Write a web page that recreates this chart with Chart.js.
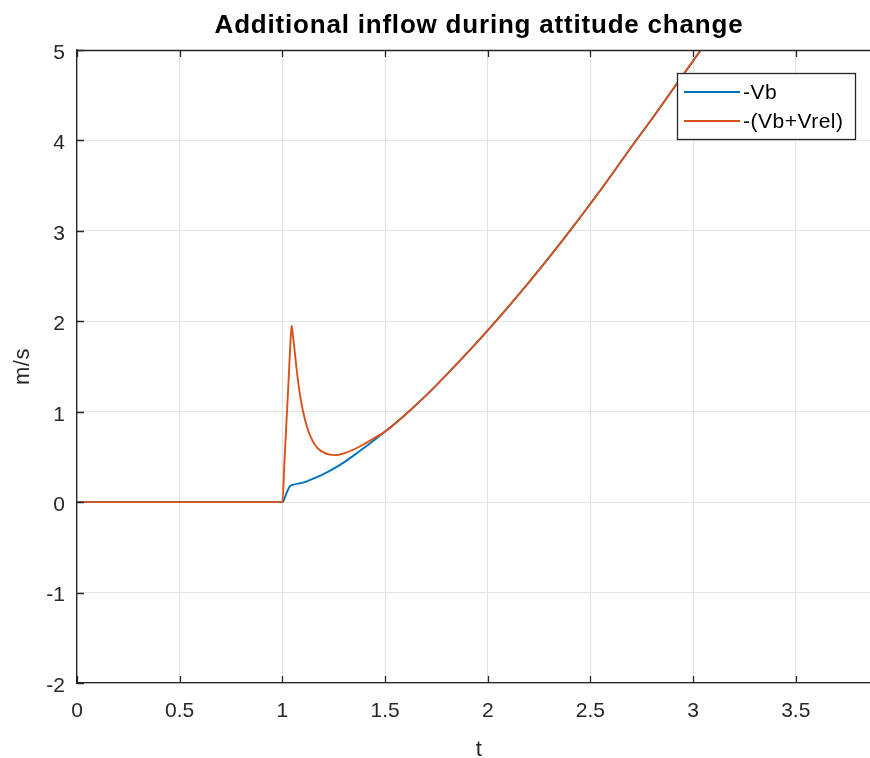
<!DOCTYPE html>
<html>
<head>
<meta charset="utf-8">
<script src="https://cdn.jsdelivr.net/npm/chart.js@4.4.1/dist/chart.umd.min.js"></script>
<style>
  html, body { margin: 0; padding: 0; background: #ffffff; overflow: hidden; }
  canvas { display: block; }
</style>
</head>
<body>
<canvas id="inflow-chart" width="881" height="758"></canvas>
<script>
// Data
const titleText = 'Additional inflow during attitude change';
const xLabel = 't';
const yLabel = 'm/s';
const xTicks = [0, 0.5, 1, 1.5, 2, 2.5, 3, 3.5];
const yTicks = [-2, -1, 0, 1, 2, 3, 4, 5];

// -Vb, up to the point where both curves merge
const tVb = [0, 1.0, 1.02, 1.035, 1.05, 1.1, 1.15, 1.2, 1.25, 1.3, 1.35, 1.4, 1.45, 1.5];
const vb  = [0, 0, 0.10, 0.17, 0.19, 0.215, 0.26, 0.31, 0.37, 0.44, 0.52, 0.605, 0.69, 0.78];

// -(Vb+Vrel), up to the merge point
const tRel = [0, 1.0, 1.01, 1.02, 1.03, 1.04, 1.045, 1.05, 1.06, 1.07, 1.08, 1.09, 1.10, 1.12, 1.14,
              1.16, 1.18, 1.20, 1.23, 1.26, 1.30, 1.35, 1.40, 1.45, 1.5];
const vRel = [0, 0, 0.44, 0.89, 1.33, 1.80, 1.95, 1.87, 1.67, 1.46, 1.28, 1.13, 1.01, 0.83, 0.71,
              0.63, 0.58, 0.55, 0.525, 0.52, 0.54, 0.585, 0.645, 0.71, 0.78];

// shared part after t = 1.5
const tLate = [1.6, 1.7, 1.8, 1.9, 2.0, 2.1, 2.2, 2.3, 2.4, 2.5, 2.6, 2.7, 2.8, 2.9, 3.0, 3.1];
const vLate = [0.97, 1.18, 1.41, 1.65, 1.90, 2.16, 2.43, 2.71, 3.00, 3.30, 3.61, 3.93, 4.24, 4.56, 4.88, 5.20];

const blue = '#0072BD';
const orange = '#D95319';
const axisColor = '#262626';

function toPoints(ts, vs) {
  return ts.map((t, i) => ({ x: t, y: vs[i] }));
}

const vbPoints = toPoints(tVb, vb).concat(toPoints(tLate, vLate));
const relPoints = toPoints(tRel, vRel).concat(toPoints(tLate, vLate));

// matlab-ish extras: box top, inward ticks, title, labels, legend
const matlabLook = {
  id: 'matlabLook',
  beforeInit(chart) {
    chart.ctx.letterSpacing = '0.5px';
  },
  afterDraw(chart) {
    const ctx = chart.ctx;
    const a = chart.chartArea;
    const xs = chart.scales.x;
    const ys = chart.scales.y;
    ctx.save();

    // top border
    ctx.strokeStyle = axisColor;
    ctx.lineWidth = 1.3;
    ctx.beginPath();
    ctx.moveTo(a.left, a.top + 0.5);
    ctx.lineTo(a.right, a.top + 0.5);
    ctx.stroke();

    // inward ticks
    ctx.beginPath();
    xTicks.forEach(v => {
      const px = Math.round(xs.getPixelForValue(v)) + 0.5;
      ctx.moveTo(px, a.bottom); ctx.lineTo(px, a.bottom - 7);
      ctx.moveTo(px, a.top); ctx.lineTo(px, a.top + 7);
    });
    yTicks.forEach(v => {
      const py = Math.round(ys.getPixelForValue(v)) + 0.5;
      ctx.moveTo(a.left, py); ctx.lineTo(a.left + 7, py);
    });
    ctx.stroke();

    // title
    ctx.fillStyle = '#000000';
    ctx.letterSpacing = '0.8px';
    ctx.font = 'bold 26px "Liberation Sans", Arial, sans-serif';
    ctx.textAlign = 'center';
    ctx.textBaseline = 'alphabetic';
    ctx.fillText(titleText, (a.left + a.right) / 2, 33);

    // axis labels
    ctx.fillStyle = axisColor;
    ctx.letterSpacing = '0.5px';
    ctx.font = '22px "Liberation Sans", Arial, sans-serif';
    ctx.fillText(xLabel, (a.left + a.right) / 2, 756);
    ctx.save();
    ctx.translate(29, (a.top + a.bottom) / 2);
    ctx.rotate(-Math.PI / 2);
    ctx.fillText(yLabel, 0, 0);
    ctx.restore();

    // legend box
    const lx = 677, ly = 73, lw = 178, lh = 66;
    ctx.fillStyle = '#ffffff';
    ctx.fillRect(lx, ly, lw, lh);
    ctx.strokeStyle = axisColor;
    ctx.lineWidth = 1.3;
    ctx.strokeRect(lx + 0.5, ly + 0.5, lw, lh);
    const entries = [
      { label: chart.data.datasets[0].label, color: blue, y: 92 },
      { label: chart.data.datasets[1].label, color: orange, y: 121 }
    ];
    ctx.font = '21px "Liberation Sans", Arial, sans-serif';
    ctx.textAlign = 'left';
    ctx.textBaseline = 'middle';
    entries.forEach(e => {
      ctx.strokeStyle = e.color;
      ctx.lineWidth = 1.8;
      ctx.beginPath();
      ctx.moveTo(684, e.y);
      ctx.lineTo(740, e.y);
      ctx.stroke();
      ctx.fillStyle = '#000000';
      ctx.fillText(e.label, 743, e.y + 1);
    });

    ctx.restore();
  }
};

const tickFont = { family: '"Liberation Sans", Arial, sans-serif', size: 21 };

new Chart(document.getElementById('inflow-chart'), {
  type: 'line',
  data: {
    datasets: [
      { label: '-Vb', data: vbPoints, borderColor: blue, borderWidth: 1.9, pointRadius: 0,
        fill: false, cubicInterpolationMode: 'monotone', order: 2 },
      { label: '-(Vb+Vrel)', data: relPoints, borderColor: orange, borderWidth: 1.9, pointRadius: 0,
        fill: false, cubicInterpolationMode: 'monotone', order: 1 }
    ]
  },
  options: {
    responsive: false,
    animation: false,
    events: [],
    layout: { padding: { top: 50, right: 0, bottom: 0, left: 0 } },
    plugins: {
      legend: { display: false },
      title: { display: false },
      tooltip: { enabled: false }
    },
    scales: {
      x: {
        type: 'linear',
        min: 0,
        max: 3.915,
        afterBuildTicks: s => { s.ticks = xTicks.map(v => ({ value: v })); },
        afterFit: s => { s.height = 75; },
        ticks: { font: tickFont, color: axisColor, padding: 16, maxRotation: 0, autoSkip: false,
                 callback: v => String(v) },
        grid: { color: '#e2e2e2', lineWidth: 1, drawTicks: false },
        border: { color: axisColor, width: 1.3 }
      },
      y: {
        type: 'linear',
        min: -2,
        max: 5,
        afterBuildTicks: s => { s.ticks = yTicks.map(v => ({ value: v })); },
        afterFit: s => { s.width = 77; },
        ticks: { font: tickFont, color: axisColor, padding: 12, labelOffset: 3, autoSkip: false,
                 callback: v => String(v) },
        grid: { color: '#e2e2e2', lineWidth: 1, drawTicks: false },
        border: { color: axisColor, width: 1.3 }
      }
    }
  },
  plugins: [matlabLook]
});
</script>
</body>
</html>
